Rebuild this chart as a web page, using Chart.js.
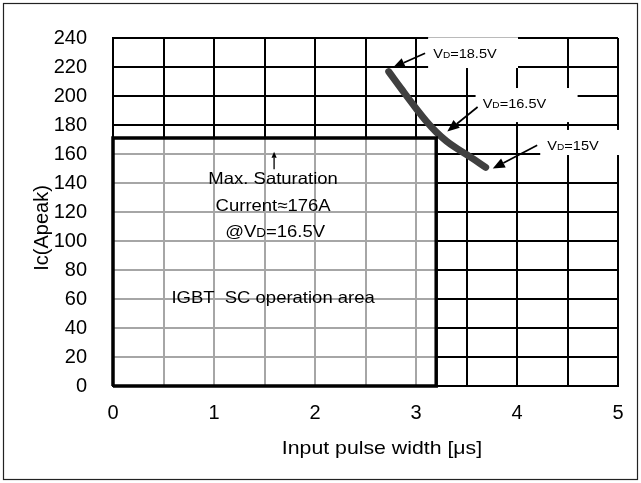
<!DOCTYPE html>
<html lang="en">
<head>
<meta charset="UTF-8">
<title>IGBT SC operation area</title>
<script src="https://cdn.jsdelivr.net/npm/chart.js"></script>
<style>
  body { margin: 0; background: #fff; }
  #wrap { width: 641px; height: 483px; position: relative; }
</style>
</head>
<body>
<div id="wrap"><canvas id="scChart"></canvas></div>
<script>
// axis ranges / ticks
const xMin = 0, xMax = 5, xGridStep = 0.5;
const yMin = 0, yMax = 240, yStep = 20;

// SC withstand curve (pulse width us, Ic A)
const curveX = [2.73, 2.87, 3.0, 3.1, 3.2, 3.3, 3.4, 3.54, 3.69];
const curveY = [216.8, 203.5, 191.5, 182.8, 175.2, 169.0, 164.0, 157.8, 150.8];

// safe operation area box
const areaX = 3.2;
const areaY = 171;

// VD labels
const vdLabels = ['18.5V', '16.5V', '15V'];

const FONT = 'Liberation Sans, Arial, sans-serif';

// draw text a bit wider like the original
function wideText(ctx, str, x, y, size, align) {
  ctx.save();
  ctx.font = size + 'px ' + FONT;
  ctx.translate(x, y);
  ctx.scale(1.12, 1);
  ctx.textAlign = align || 'left';
  ctx.fillText(str, 0, 0);
  ctx.restore();
}

// "VD=..." with small D
function vdText(ctx, prefix, value, x, y, size, align) {
  ctx.save();
  const sx = 1.12;
  ctx.font = size + 'px ' + FONT;
  const w1 = ctx.measureText(prefix + 'V').width;
  ctx.font = Math.round(size * 0.7) + 'px ' + FONT;
  const w2 = ctx.measureText('D').width;
  ctx.font = size + 'px ' + FONT;
  const w3 = ctx.measureText('=' + value).width;
  let left = x;
  if (align === 'center') left = x - (w1 + w2 + w3) * sx / 2;
  ctx.translate(left, y);
  ctx.scale(sx, 1);
  ctx.textAlign = 'left';
  ctx.fillText(prefix + 'V', 0, 0);
  ctx.font = Math.round(size * 0.7) + 'px ' + FONT;
  ctx.fillText('D', w1, 0);
  ctx.font = size + 'px ' + FONT;
  ctx.fillText('=' + value, w1 + w2, 0);
  ctx.restore();
}

function arrow(ctx, x1, y1, x2, y2, len, hw, lw) {
  const a = Math.atan2(y2 - y1, x2 - x1);
  const bx = x2 - len * Math.cos(a), by = y2 - len * Math.sin(a);
  ctx.beginPath();
  ctx.moveTo(x1, y1);
  ctx.lineTo(bx, by);
  ctx.lineWidth = lw;
  ctx.strokeStyle = '#000';
  ctx.stroke();
  ctx.beginPath();
  ctx.moveTo(x2, y2);
  ctx.lineTo(bx + hw * Math.sin(a), by - hw * Math.cos(a));
  ctx.lineTo(bx - hw * Math.sin(a), by + hw * Math.cos(a));
  ctx.closePath();
  ctx.fillStyle = '#000';
  ctx.fill();
}

// gray grid inside the operation area + annotations
const areaGrid = {
  id: 'areaGrid',
  beforeDatasetsDraw(chart) {
    const { ctx, scales: { x, y } } = chart;
    const l = x.getPixelForValue(xMin), r = x.getPixelForValue(areaX);
    const b = y.getPixelForValue(yMin), t = y.getPixelForValue(areaY);
    ctx.save();
    ctx.fillStyle = '#fff';
    ctx.fillRect(l + 1, t, r - l, b - t - 1);
    ctx.strokeStyle = '#a6a6a6';
    ctx.lineWidth = 2;
    x.ticks.forEach(tk => {
      if (tk.value <= xMin || tk.value >= areaX) return;
      const px = Math.round(x.getPixelForValue(tk.value));
      ctx.beginPath(); ctx.moveTo(px, t); ctx.lineTo(px, b); ctx.stroke();
    });
    y.ticks.forEach(tk => {
      if (tk.value <= yMin || tk.value >= areaY) return;
      const py = Math.round(y.getPixelForValue(tk.value));
      ctx.beginPath(); ctx.moveTo(l, py); ctx.lineTo(r, py); ctx.stroke();
    });
    ctx.restore();
  },
  afterDatasetsDraw(chart) {
    const { ctx, scales: { x, y } } = chart;
    const X = v => x.getPixelForValue(v), Y = v => y.getPixelForValue(v);
    ctx.save();
    ctx.fillStyle = '#000';
    ctx.textBaseline = 'alphabetic';

    // texts inside the area
    const cx = X(1.585);
    arrow(ctx, cx + 1, Y(149.5), cx + 1, Y(161.5), 6, 2.6, 1.3);
    wideText(ctx, 'Max. Saturation', cx, Y(139.5), 16.5, 'center');
    wideText(ctx, 'Current\u2248176A', cx, Y(120.5), 16.5, 'center');
    vdText(ctx, '@', '16.5V', cx + 2, Y(103), 16.5, 'center');
    wideText(ctx, 'IGBT  SC operation area', cx, Y(57), 16.5, 'center');

    // VD label boxes + arrows
    const boxes = [
      { x0: 3.12, x1: 4.01, y0: 219.3, y1: 240.5, tx: 3.17, ty: 226, a: [3.09, 229.5, 2.77, 219.5] },
      { x0: 3.59, x1: 4.60, y0: 182, y1: 205.5, tx: 3.66, ty: 191.7, a: [3.61, 192.4, 3.31, 175.5] },
      { x0: 4.23, x1: 5.03, y0: 159.3, y1: 176.6, tx: 4.30, ty: 162.8, a: [4.2, 166, 3.76, 150] }
    ];
    boxes.forEach((bx, i) => {
      ctx.fillStyle = '#fff';
      ctx.fillRect(X(bx.x0), Y(bx.y1), X(bx.x1) - X(bx.x0), Y(bx.y0) - Y(bx.y1));
      ctx.fillStyle = '#000';
      vdText(ctx, '', vdLabels[i], X(bx.tx), Y(bx.ty), 13, 'left');
      arrow(ctx, X(bx.a[0]), Y(bx.a[1]), X(bx.a[2]), Y(bx.a[3]), 12, 5, 1.7);
    });
    ctx.restore();
  },
  afterDraw(chart) {
    const { ctx } = chart;
    ctx.save();
    ctx.fillStyle = '#000';
    // axis titles
    wideText(ctx, 'Input pulse width [\u03bcs]', 382, 454, 19, 'center');
    ctx.save();
    ctx.translate(48, 228);
    ctx.rotate(-Math.PI / 2);
    ctx.font = '20px ' + FONT;
    ctx.textAlign = 'center';
    ctx.fillText('Ic(Apeak)', 0, 0);
    ctx.restore();
    // outer frame
    ctx.strokeStyle = '#222';
    ctx.lineWidth = 1.2;
    ctx.strokeRect(3.5, 3.5, 634, 476);
    ctx.restore();
  }
};

const curvePts = curveX.map((v, i) => ({ x: v, y: curveY[i] }));
const areaPts = [
  { x: xMin, y: yMin }, { x: xMin, y: areaY }, { x: areaX, y: areaY },
  { x: areaX, y: yMin }, { x: xMin, y: yMin }
];

new Chart(document.getElementById('scChart'), {
  type: 'scatter',
  data: {
    datasets: [
      {
        data: areaPts, showLine: true, borderColor: '#000', borderWidth: 3.5,
        pointRadius: 0, tension: 0, borderJoinStyle: 'miter', clip: false
      },
      {
        data: curvePts, showLine: true, borderColor: '#404040', borderWidth: 7,
        pointRadius: 0, tension: 0.4, borderCapStyle: 'round'
      }
    ]
  },
  options: {
    responsive: true,
    maintainAspectRatio: false,
    animation: false,
    layout: { padding: { left: 0, top: 38, right: 23, bottom: 0 } },
    plugins: { legend: { display: false }, tooltip: { enabled: false } },
    scales: {
      x: {
        type: 'linear', min: xMin, max: xMax,
        afterFit: s => { s.height = 97; },
        ticks: {
          stepSize: xGridStep, autoSkip: false, maxRotation: 0, padding: 15,
          color: '#000', font: { family: FONT, size: 20 },
          callback: v => Number.isInteger(v) ? v : ''
        },
        grid: { color: '#000', lineWidth: 2, drawTicks: false },
        border: { color: '#000', width: 2 }
      },
      y: {
        min: yMin, max: yMax,
        afterFit: s => { s.width = 113; },
        ticks: {
          stepSize: yStep, padding: 26, color: '#000',
          font: { family: FONT, size: 20 }
        },
        grid: { color: '#000', lineWidth: 2, drawTicks: false },
        border: { color: '#000', width: 2 }
      }
    }
  },
  plugins: [areaGrid]
});
</script>
</body>
</html>
